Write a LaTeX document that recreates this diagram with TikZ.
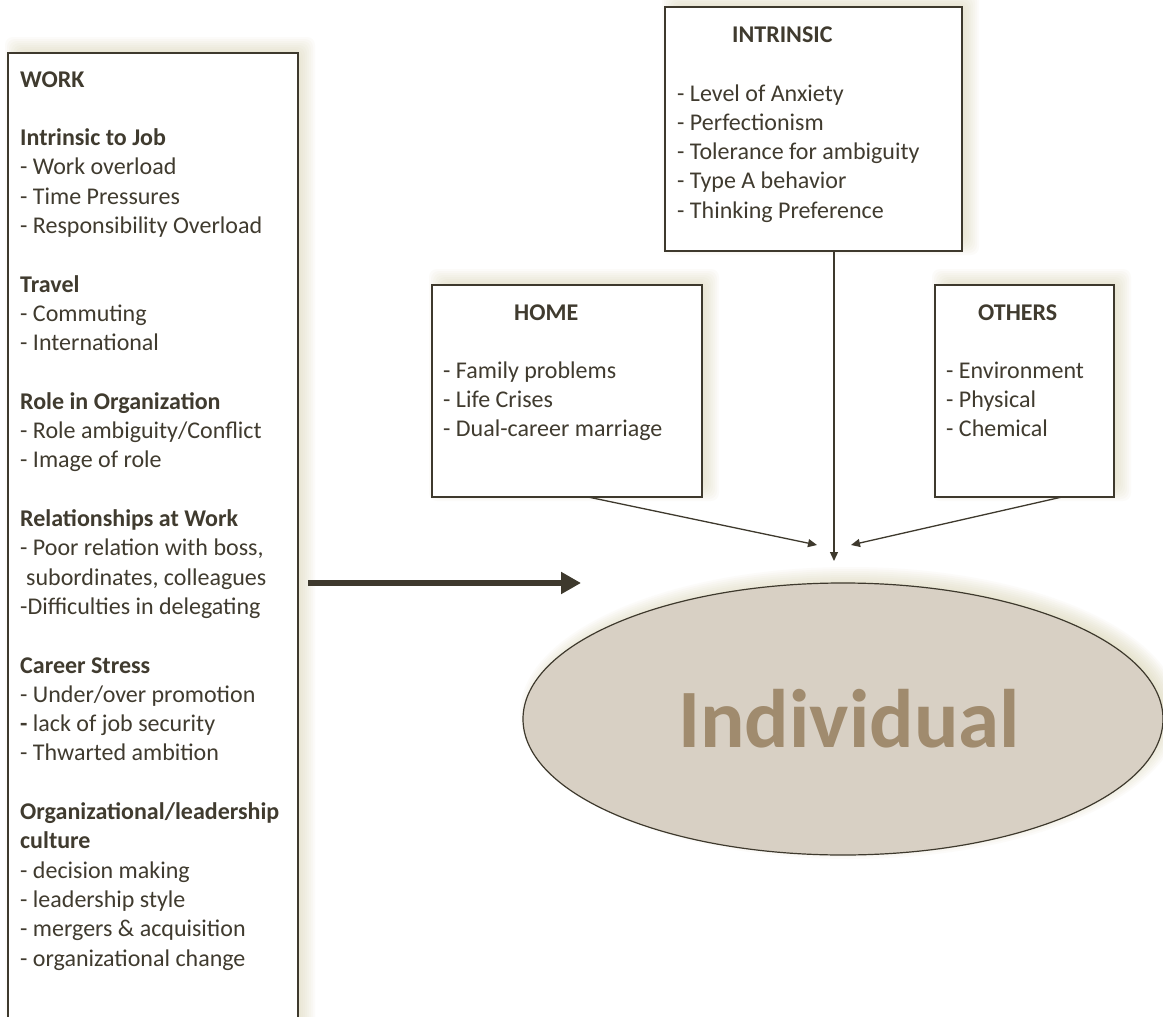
\documentclass[tikz,border=0pt]{standalone}
\usepackage{fontspec}
\setmainfont{Carlito}
\usetikzlibrary{arrows.meta,shapes.geometric,calc}

\definecolor{ink}{RGB}{62,57,45}
\definecolor{txt}{RGB}{64,59,47}
\definecolor{glowc}{RGB}{214,208,170}
\definecolor{ovalfill}{RGB}{216,208,196}
\definecolor{ovaltext}{RGB}{160,139,110}

\pgfdeclarelayer{bg}
\pgfsetlayers{bg,main}

\newlength{\gapskip}
\setlength{\gapskip}{29.3pt}

% soft glow behind a rectangular node, offset up and to the right
\newcommand{\boxglow}[1]{%
  \foreach \r in {-10,-8,...,10}{%
    \fill[glowc, fill opacity=0.07, rounded corners=8pt]
      ($(#1.north west)+(7-\r,-6-\r)$) rectangle ($(#1.south east)+(7+\r,-6+\r)$);
  }}

\begin{document}
\begin{tikzpicture}[x=1pt,y=-1pt,
  frame/.style={draw=ink, line width=1.5pt, fill=white,
      inner sep=0pt, outer sep=0pt, anchor=north west},
  txtblock/.style={inner sep=0pt, anchor=base west, align=left, text=txt,
      font=\fontsize{24}{29.3}\selectfont},
  thinarrow/.style={draw=ink, line width=1.3pt, -{Triangle[length=9pt,width=8pt]}},
  bigarrow/.style={draw=ink, line width=6pt, -{Triangle[length=20pt,width=21pt]}}]

\clip (0,0) rectangle (1163,1017);

% boxes
\node[frame, minimum width=290pt, minimum height=1000pt] (work) at (8,53) {};
\node[frame, minimum width=297pt, minimum height=244pt] (intr) at (665,7) {};
\node[frame, minimum width=270pt, minimum height=212pt] (home) at (432,285) {};
\node[frame, minimum width=179pt, minimum height=212pt] (others) at (935,285) {};

% central ellipse
\node[ellipse, draw=ink, line width=1.2pt, fill=ovalfill,
      minimum width=640pt, minimum height=272pt, inner sep=0pt] (indiv) at (843,719) {};
\node[inner sep=0pt, text=ovaltext, font=\fontsize{83}{90}\selectfont\bfseries]
      (indivlabel) at (849,719) {Individual};

% glows
\begin{pgfonlayer}{bg}
  \fill[white] (0,0) rectangle (1163,1017);
  \boxglow{work}
  \boxglow{intr}
  \boxglow{home}
  \boxglow{others}
  \foreach \r in {-10,-8,...,10}{%
    \fill[glowc, fill opacity=0.07]
      ($(indiv.center)+(7,-6)$) ellipse [x radius=320+\r, y radius=136+\r];
  }
\end{pgfonlayer}

% box texts
\node[txtblock] (worktxt) at (20,966) {%
\textbf{WORK}\\[\gapskip]
\textbf{Intrinsic to Job}\\
- Work overload\\
- Time Pressures\\
- Responsibility Overload\\[\gapskip]
\textbf{Travel}\\
- Commuting\\
- International\\[\gapskip]
\textbf{Role in Organization}\\
- Role ambiguity/Conflict\\
- Image of role\\[\gapskip]
\textbf{Relationships at Work}\\
- Poor relation with boss,\\
\hspace*{6pt}subordinates, colleagues\\
-Difficulties in delegating\\[\gapskip]
\textbf{Career Stress}\\
- Under/over promotion\\
\textbf{-} lack of job security\\
- Thwarted ambition\\[\gapskip]
\textbf{Organizational/leadership}\\
\textbf{culture}\\
- decision making\\
- leadership style\\
- mergers \& acquisition\\
- organizational change};

\node[txtblock] (intrhead) at (732,42) {\textbf{INTRINSIC}};
\node[txtblock] (intrtxt) at (677,218.2) {%
- Level of Anxiety\\
- Perfectionism\\
- Tolerance for ambiguity\\
- Type A behavior\\
- Thinking Preference};

\node[txtblock] (homehead) at (514,320) {\textbf{HOME}};
\node[txtblock] (hometxt) at (443,436.6) {%
- Family problems\\
- Life Crises\\
- Dual-career marriage};

\node[txtblock] (othershead) at (978,320) {\textbf{OTHERS}};
\node[txtblock] (otherstxt) at (946,436.6) {%
- Environment\\
- Physical\\
- Chemical};

% connector end points
\coordinate (bigfrom) at (308,583);
\coordinate (bigto) at (581,583);
\coordinate (intrfrom) at (834,251);
\coordinate (intrto) at (834,561);
\coordinate (homefrom) at (588,497);
\coordinate (hometo) at (817,545);
\coordinate (othersfrom) at (1062,497);
\coordinate (othersto) at (851,545);

\draw[bigarrow] (bigfrom) -- (bigto);
\draw[thinarrow] (intrfrom) -- (intrto);
\draw[thinarrow] (homefrom) -- (hometo);
\draw[thinarrow] (othersfrom) -- (othersto);
\end{tikzpicture}
\end{document}
